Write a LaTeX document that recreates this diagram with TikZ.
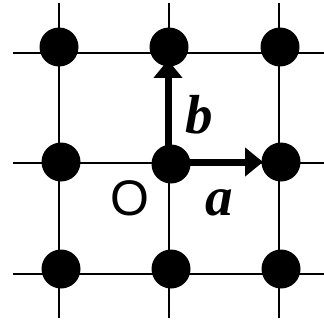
\documentclass[tikz,border=0pt]{standalone}
\usepackage{fontspec}
\setmainfont{Liberation Serif}
\newfontfamily\osans{Liberation Sans}
\usetikzlibrary{arrows.meta}
\begin{document}
\begin{tikzpicture}[x=1pt,y=-1pt,
  gridline/.style={line width=1.8pt,black},
  atom/.style={circle,fill=black,minimum size=39pt,inner sep=0pt},
  vec/.style={line width=7pt,-{Triangle[length=18pt,width=28pt]}},
  lbl/.style={font=\fontsize{55}{60}\selectfont}]
\useasboundingbox (0,0) rectangle (324,321);
% grid lines
\foreach \y [count=\i] in {53,163,274}{
  \coordinate (hL\i) at (13,\y); \coordinate (hR\i) at (324,\y);
  \draw[gridline] (hL\i) -- (hR\i);}
\foreach \x [count=\i] in {59,169,279}{
  \coordinate (vT\i) at (\x,3); \coordinate (vB\i) at (\x,318);
  \draw[gridline] (vT\i) -- (vB\i);}
% atoms
\node[atom] (tl) at (59,47) {};
\node[atom] (tc) at (169,47) {};
\node[atom] (tr) at (280,47) {};
\node[atom] (ml) at (61,162) {};
\node[atom] (c) at (171,164) {};
\node[atom] (mr) at (281,162) {};
\node[atom] (bl) at (61,269) {};
\node[atom] (bc) at (171,269) {};
\node[atom] (br) at (281,269) {};
% vectors
\coordinate (aS) at (171,162);
\coordinate (aE) at (263,162);
\coordinate (bS) at (168,164);
\coordinate (bE) at (168,60);
\draw[vec] (aS) -- (aE);
\draw[vec] (bS) -- (bE);
% labels
\node[lbl] (lb) at (199,115) {\textbf{\textit{b}}};
\node[lbl] (la) at (219,203) {\textbf{\textit{a}}};
\node[font=\osans\fontsize{50}{55}\selectfont] (lo) at (130,198) {O};
\end{tikzpicture}
\end{document}
